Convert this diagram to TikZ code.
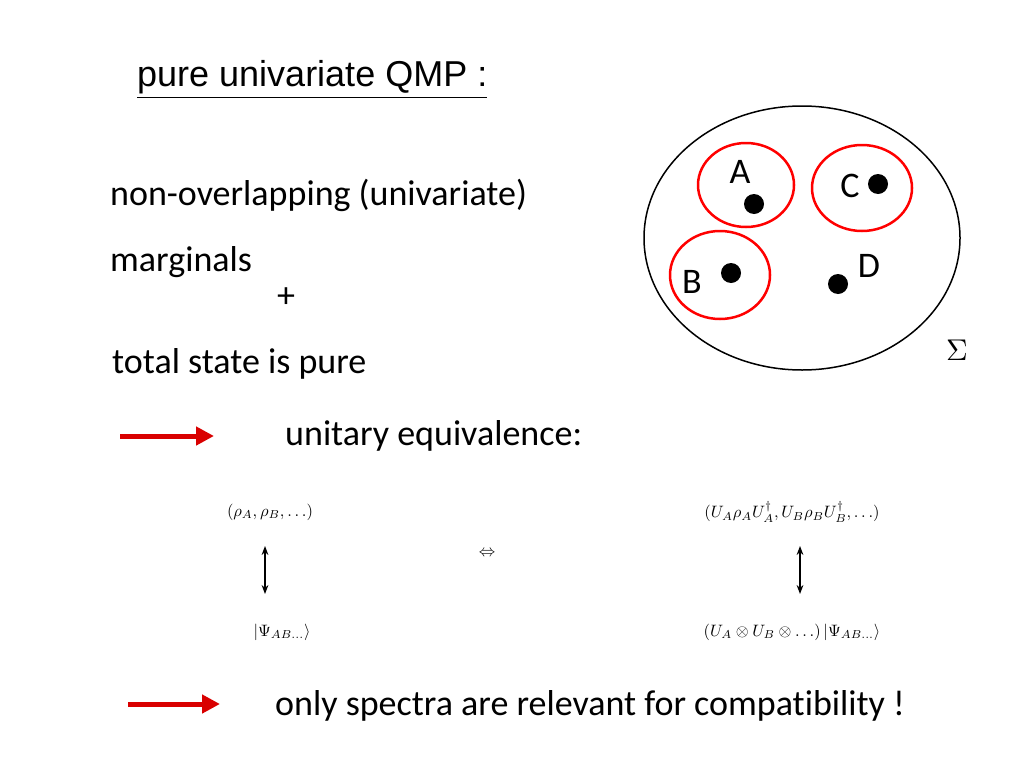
\documentclass[tikz,border=0pt]{standalone}
\usepackage{fontspec}
\usepackage{amsmath}
\setmainfont[Ligatures=NoCommon]{Carlito}
\newfontfamily\arialf{Liberation Sans}
\usetikzlibrary{arrows.meta}
\begin{document}
\begin{tikzpicture}[x=1pt,y=-1pt,
  txt/.style={inner sep=0pt,font=\fontsize{36}{42}\selectfont},
  mth/.style={inner sep=0pt,scale=1.65},
  sub/.style={draw=red,line width=2.5pt},
  dot/.style={circle,fill=black,inner sep=0pt,minimum size=20pt},
  redarr/.style={draw=red!85!black,line width=5pt,-{Triangle[length=18pt,width=18pt]}},
  varr/.style={line width=1.3pt,{Stealth[length=9pt]}-{Stealth[length=9pt]}}]
\useasboundingbox (0,0) rectangle (1024,768);
\node[inner sep=0pt,anchor=west,font=\arialf\fontsize{36}{40}\selectfont] (t) at (137,80) {\underline{pure univariate QMP :}};
\node[txt,anchor=west] (n1) at (110,195) {non-overlapping (univariate)};
\node[txt,anchor=west] (n2) at (110,262) {marginals};
\node[txt] (plus) at (286,298) {+};
\node[txt,anchor=west] (n3) at (112,364) {total state is pure};
\draw[line width=1.5pt] (802,238) ellipse [x radius=158, y radius=132];
\draw[sub] (746,185) ellipse [x radius=48, y radius=42];
\draw[sub] (862,188) ellipse [x radius=50, y radius=43];
\draw[sub] (720,275) ellipse [x radius=50, y radius=44];
\node[dot] (dA) at (754,204) {};
\node[dot] (dC) at (878,184) {};
\node[dot] (dB) at (731,273) {};
\node[dot] (dD) at (838,284) {};
\node[txt] (lA) at (740,172) {A};
\node[txt] (lC) at (850,186) {C};
\node[txt] (lB) at (692,282) {B};
\node[txt] (lD) at (869,266) {D};
\node[inner sep=0pt,scale=3] (sig) at (957,350) {$\Sigma$};
\coordinate (a1s) at (120,436); \coordinate (a1e) at (214,436);
\draw[redarr] (a1s) -- (a1e);
\node[txt,anchor=west] (ue) at (285,436) {unitary equivalence:};
\node[mth] (m1) at (270,512) {$(\rho_A,\rho_B,\ldots)$};
\node[mth] (m2) at (792,512) {$(U_A\rho_AU_A^\dagger,U_B\rho_BU_B^\dagger,\ldots)$};
\node[mth] (eq) at (487,553) {$\Leftrightarrow$};
\node[mth] (m3) at (282,632) {$|\Psi_{AB\ldots}\rangle$};
\node[mth] (m4) at (792,632) {$(U_A\otimes U_B\otimes\ldots)\,|\Psi_{AB\ldots}\rangle$};
\coordinate (v1a) at (265,546); \coordinate (v1b) at (265,594);
\coordinate (v2a) at (800,546); \coordinate (v2b) at (800,594);
\draw[varr] (v1a) -- (v1b);
\draw[varr] (v2a) -- (v2b);
\coordinate (a2s) at (128,704); \coordinate (a2e) at (220,704);
\draw[redarr] (a2s) -- (a2e);
\node[txt,anchor=west] (on) at (275,706) {only spectra are relevant for compatibility !};
\end{tikzpicture}
\end{document}
